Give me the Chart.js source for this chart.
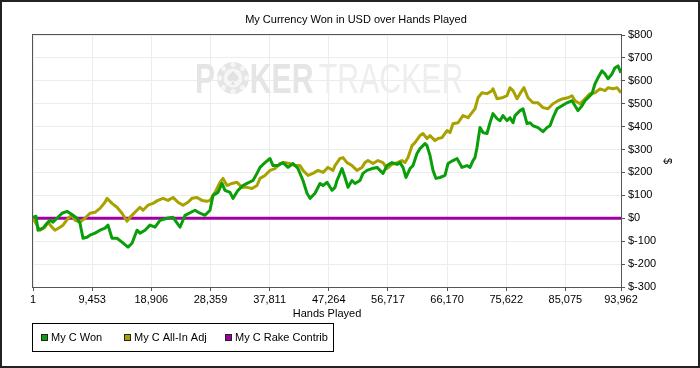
<!DOCTYPE html>
<html>
<head>
<meta charset="utf-8">
<title>My Currency Won in USD over Hands Played</title>
<script src="https://cdn.jsdelivr.net/npm/chart.js@4.4.0/dist/chart.umd.min.js"></script>
<style>
    html, body { margin: 0; padding: 0; background: #fff; }
    #wrap { width: 700px; height: 368px; }
</style>
</head>
<body>
<div id="wrap"><canvas id="chart" width="700" height="368"></canvas></div>
<script>
// ---- Data ----
const chartTitle = 'My Currency Won in USD over Hands Played';
const seriesNames = ['My C Won', 'My C All-In Adj', 'My C Rake Contrib'];
const seriesColors = ['#0a9e0a', '#a8a200', '#a000a0'];

const wonHands = [0, 479, 799, 1598, 2237, 2717, 3196, 3835, 4634, 5433, 5913, 6392, 7031, 7511, 7990, 8629,
    9109, 9908, 10707, 11506, 11985, 12624, 13423, 14222, 15181, 15820, 16619, 17099, 17898, 18697, 19496,
    20295, 21413, 22372, 23491, 24290, 25888, 26687, 27486, 28285, 28764, 29563, 30202, 30682, 31481, 31960,
    32759, 33558, 34197, 35156, 35795, 36275, 37074, 37873, 38352, 39151, 39950, 40749, 41548, 42347, 43146,
    43785, 44265, 45064, 45863, 46342, 46981, 47780, 48260, 48579, 49378, 49858, 50337, 50976, 51456, 52255,
    52734, 53373, 54172, 54971, 55451, 55930, 56569, 57368, 58167, 58647, 59126, 59605, 60245, 60724, 61363,
    61843, 62642, 62961, 63441, 63920, 64399, 65039, 65838, 66317, 67116, 67755, 68554, 69353, 69833, 70312,
    70632, 70951, 71431, 71910, 72549, 73029, 73508, 74147, 74627, 75106, 75745, 76225, 76704, 77024, 77823,
    78302, 78941, 79421, 79900, 80699, 81498, 82137, 82617, 83096, 83735, 84534, 85333, 86132, 86612, 87091,
    87730, 88210, 88689, 89328, 89808, 90287, 90926, 91406, 91885, 92524, 93004, 93483, 93962];
const wonValues = [4, 9, -52, -43, -22, -9, -17, 0, 22, 30, 22, 13, 0, -22, -87, -83,
    -74, -65, -52, -43, -30, -87, -87, -104, -126, -109, -52, -65, -52, -30, -39,
    -9, 0, 4, -39, 13, 35, 22, 13, 35, 100, 113, 152, 122, 113, 87,
    122, 143, 152, 165, 196, 222, 243, 261, 230, 230, 243, 222, 239, 217, 165,
    109, 87, 109, 152, 143, 157, 122, 135, 165, 217, 178, 135, 165, 152, 165,
    196, 209, 217, 222, 209, 196, 230, 243, 235, 243, 222, 178, 217, 230, 283,
    304, 326, 317, 274, 209, 174, 178, 187, 239, 252, 261, 222, 230, 222, 252,
    265, 309, 396, 374, 370, 417, 457, 435, 426, 448, 426, 439, 417, 448, 470,
    478, 413, 417, 404, 396, 378, 396, 404, 439, 478, 491, 504, 513, 491, 470,
    491, 513, 526, 544, 587, 613, 644, 630, 609, 630, 657, 665, 635];

const adjHands = [0, 639, 1119, 1918, 2397, 3036, 3516, 4315, 4794, 5593, 6232, 6712, 7511, 8310, 9109,
    9908, 10707, 11506, 11825, 12624, 13423, 14222, 15021, 15501, 16300, 17099, 17578, 18377, 19176, 19975,
    20774, 21573, 22372, 23171, 23970, 24769, 25408, 26207, 27006, 27805, 28285, 29084, 29883, 30362, 31001,
    31800, 32599, 33398, 34197, 34996, 35795, 36275, 37074, 37873, 38672, 39471, 40270, 41069, 41868, 42667,
    43146, 43945, 44744, 45543, 46342, 47141, 47940, 48260, 49059, 49538, 50177, 50976, 51775, 52574, 53054,
    53533, 54332, 55131, 55930, 56569, 57368, 58167, 58966, 59446, 59925, 60564, 61044, 61843, 62322, 62961,
    63441, 64240, 64719, 65358, 66157, 66637, 67116, 67915, 68714, 69513, 70152, 70632, 71111, 71750, 72549,
    73348, 73508, 74147, 74946, 75745, 76225, 76704, 77343, 77823, 78462, 79101, 79900, 80699, 81498, 82297,
    83096, 83895, 84694, 85493, 86132, 86612, 87411, 88210, 89009, 89808, 90607, 91406, 91885, 92684, 93323,
    93962];
const adjValues = [0, -30, -52, -39, -17, -39, -52, -39, -30, 0, 13, -9, -17, 0, 22,
    26, 43, 70, 87, 65, 48, 22, -13, 4, 26, 48, 35, 57, 65, 78,
    87, 78, 91, 70, 57, 70, 87, 91, 78, 74, 78, 113, 157, 174, 143,
    152, 157, 135, 135, 130, 143, 174, 187, 209, 217, 239, 243, 239, 230, 230,
    209, 187, 196, 209, 200, 222, 209, 230, 261, 265, 243, 230, 209, 222, 243,
    252, 239, 252, 243, 217, 235, 243, 252, 243, 265, 317, 330, 361, 370, 348,
    361, 339, 348, 352, 383, 374, 413, 417, 448, 439, 461, 478, 526, 548, 544,
    557, 565, 522, 526, 535, 570, 557, 522, 544, 570, 526, 504, 504, 483, 478,
    500, 513, 522, 526, 535, 513, 500, 522, 544, 548, 565, 557, 570, 565, 570,
    548];

const rakeHands = [1, 93962];
const rakeValues = [0, 0];

const xTickValues = [1, 9453, 18906, 28359, 37811, 47264, 56717, 66170, 75622, 85075, 93962];
const yMin = -300;
const yMax = 800;
const yStep = 100;

// ---- Helpers ----
function toPoints(hands, values) {
    return hands.map((h, i) => ({ x: h, y: values[i] }));
}

const baseFont = { family: "'Liberation Sans', Arial, sans-serif", size: 11 };

// ---- Custom drawing: watermark, frame, title, legend ----
const decorPlugin = {
    id: 'decor',
    beforeDatasetsDraw(chart) {
        const ctx = chart.ctx;
        ctx.save();
        ctx.textBaseline = 'alphabetic';
        ctx.translate(195, 93);
        ctx.scale(0.72, 1);
        ctx.fillStyle = '#e5e5e5';
        ctx.font = "bold 42px 'Liberation Sans', Arial, sans-serif";
        ctx.fillText('P', 0, 0);
        ctx.fillText('KER', 76, 0);
        ctx.fillStyle = '#eeeeee';
        ctx.font = "42px 'Liberation Sans', Arial, sans-serif";
        ctx.fillText('TRACKER', 172, 0);
        ctx.restore();

        // chip for the "O"
        ctx.save();
        ctx.fillStyle = '#e5e5e5';
        ctx.beginPath();
        ctx.arc(233, 78, 16, 0, Math.PI * 2);
        ctx.fill();
        ctx.fillStyle = '#f6f6f6';
        for (let a = 0; a < 8; a++) {
            const ang = a * Math.PI / 4;
            ctx.beginPath();
            ctx.arc(233 + Math.cos(ang) * 13.5, 78 + Math.sin(ang) * 13.5, 2.5, 0, Math.PI * 2);
            ctx.fill();
        }
        ctx.beginPath();
        ctx.arc(233, 78, 9.5, 0, Math.PI * 2);
        ctx.fill();
        ctx.fillStyle = '#e2e2e2';
        ctx.beginPath();
        ctx.moveTo(233, 71);
        ctx.bezierCurveTo(229, 75, 226, 77, 228, 80);
        ctx.bezierCurveTo(229.5, 82, 232, 81, 233, 80);
        ctx.lineTo(231, 85);
        ctx.lineTo(235, 85);
        ctx.lineTo(233, 80);
        ctx.bezierCurveTo(234, 81, 236.5, 82, 238, 80);
        ctx.bezierCurveTo(240, 77, 237, 75, 233, 71);
        ctx.fill();
        ctx.restore();
    },
    afterDraw(chart) {
        const ctx = chart.ctx;
        const area = chart.chartArea;
        ctx.save();

        // plot border
        ctx.strokeStyle = '#555';
        ctx.lineWidth = 1;
        ctx.strokeRect(area.left - 0.5, area.top - 0.5, area.right - area.left + 1, area.bottom - area.top + 1);

        // outer frame
        ctx.strokeStyle = '#222';
        ctx.lineWidth = 2;
        ctx.strokeRect(1, 1, chart.width - 2, chart.height - 2);

        // title
        ctx.fillStyle = '#000';
        ctx.font = "11px 'Liberation Sans', Arial, sans-serif";
        ctx.textAlign = 'center';
        ctx.textBaseline = 'middle';
        ctx.fillText(chartTitle, 356, 20);

        // legend
        ctx.lineWidth = 1;
        ctx.strokeStyle = '#000';
        ctx.strokeRect(32.5, 323.5, 301, 28);
        const itemX = [41, 124, 225];
        ctx.textAlign = 'left';
        chart.data.datasets.forEach((ds, i) => {
            ctx.fillStyle = ds.borderColor;
            ctx.fillRect(itemX[i], 334, 7, 7);
            ctx.strokeStyle = '#222';
            ctx.strokeRect(itemX[i] + 0.5, 334.5, 6, 6);
            ctx.fillStyle = '#000';
            ctx.fillText(ds.label, itemX[i] + 10, 338);
        });
        ctx.restore();
    }
};

// ---- Chart ----
function initChart() {
    const ctx = document.getElementById('chart');
    new Chart(ctx, {
        type: 'line',
        data: {
            datasets: [
                { label: seriesNames[0], data: toPoints(wonHands, wonValues), borderColor: seriesColors[0], backgroundColor: seriesColors[0] },
                { label: seriesNames[1], data: toPoints(adjHands, adjValues), borderColor: seriesColors[1], backgroundColor: seriesColors[1] },
                { label: seriesNames[2], data: toPoints(rakeHands, rakeValues), borderColor: seriesColors[2], backgroundColor: seriesColors[2] }
            ]
        },
        options: {
            responsive: false,
            animation: false,
            events: [],
            layout: { padding: { left: 33, top: 35, right: 0, bottom: 41 } },
            elements: {
                line: { borderWidth: 3, tension: 0, borderJoinStyle: 'round' },
                point: { radius: 0 }
            },
            plugins: {
                legend: { display: false },
                title: { display: false },
                tooltip: { enabled: false }
            },
            scales: {
                x: {
                    type: 'linear',
                    min: xTickValues[0],
                    max: xTickValues[xTickValues.length - 1],
                    afterBuildTicks: scale => { scale.ticks = xTickValues.map(v => ({ value: v })); },
                    afterFit: scale => { scale.height = 40; },
                    grid: { color: '#ececec', tickColor: '#555', tickLength: 4 },
                    border: { color: '#555', width: 1 },
                    ticks: {
                        autoSkip: false,
                        maxRotation: 0,
                        padding: 2,
                        color: '#000',
                        font: baseFont,
                        callback: v => v.toLocaleString('en-US')
                    },
                    title: { display: true, text: 'Hands Played', color: '#000', font: baseFont, padding: { top: 0, bottom: 6 } }
                },
                y: {
                    position: 'right',
                    min: yMin,
                    max: yMax,
                    afterFit: scale => { scale.width = 79; },
                    grid: { color: '#ececec', tickColor: '#555', tickLength: 4 },
                    border: { color: '#555', width: 1 },
                    ticks: {
                        stepSize: yStep,
                        padding: 3,
                        color: '#000',
                        font: baseFont,
                        callback: v => '$' + v
                    },
                    title: { display: true, text: '$', color: '#000', font: baseFont, padding: { top: 26, bottom: 0 } }
                }
            }
        },
        plugins: [decorPlugin]
    });
}

document.addEventListener('DOMContentLoaded', initChart);
</script>
</body>
</html>
